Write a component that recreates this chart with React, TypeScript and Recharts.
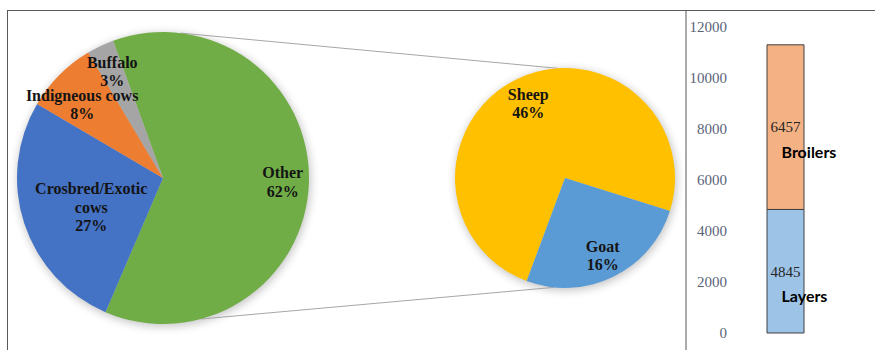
import { PieChart, Pie, Cell, BarChart, Bar, XAxis, YAxis, LabelList } from "recharts";

const mainCategories = ["Other", "Crosbred/Exotic cows", "Indigneous cows", "Buffalo"];
const mainShares = [62, 27, 8, 3];
const otherCategories = ["Sheep", "Goat"];
const otherShares = [46, 16];
const poultryTypes = ["Layers", "Broilers"];
const poultryCounts = [4845, 6457];
const yTicks = [0, 2000, 4000, 6000, 8000, 10000, 12000];

const mainColors = ["#70AD47", "#4472C4", "#ED7D31", "#A5A5A5"];
const otherColors = ["#FFC000", "#5B9BD5"];
const poultryColors = ["#9DC3E6", "#F4B183"];

// label placement: fraction of the radius, and a nudge in degrees off the slice middle
const mainLabelR = [0.82, 0.53, 0.75, 0.81];
const mainLabelNudge = [0, 3.8, 2.4, 0];
const otherLabelR = [0.76, 0.78];
const otherLabelNudge = [0, 0];
const labelLines: Record<string, string[]> = {
  "Crosbred/Exotic cows": ["Crosbred/Exotic", "cows"],
};

const LEFT = { cx: 163, cy: 178, r: 146 };
const RIGHT = { cx: 565, cy: 178, r: 110 };
const RAD = Math.PI / 180;

const mainData = mainCategories.map((name, i) => ({ name, value: mainShares[i] }));
const otherData = otherCategories.map((name, i) => ({ name, value: otherShares[i] }));
const barData = [
  poultryTypes.reduce((row: any, t, i) => ({ ...row, [t]: poultryCounts[i] }), { name: "Poultry" }),
];

const pt = (c: any, deg: number) => ({
  x: c.cx + c.r * Math.cos(-deg * RAD),
  y: c.cy + c.r * Math.sin(-deg * RAD),
});

const pieLabel = (factors: number[], nudge: number[]) => (props: any) => {
  const { cx, cy, midAngle, outerRadius, name, value, index } = props;
  const r = outerRadius * factors[index];
  const a = midAngle + nudge[index];
  const x = cx + r * Math.cos(-a * RAD);
  const y = cy + r * Math.sin(-a * RAD);
  const lines = [...(labelLines[name] || [name]), `${value}%`];
  const lh = 18.5;
  const y0 = y - ((lines.length - 1) * lh) / 2;
  return (
    <text
      x={x}
      y={y0}
      textAnchor="middle"
      dominantBaseline="central"
      fontFamily="'Liberation Serif', serif"
      fontWeight="bold"
      fontSize={16}
      fill="#141414"
    >
      {lines.map((l, i) => (
        <tspan key={i} x={x} y={y0 + i * lh}>
          {l}
        </tspan>
      ))}
    </text>
  );
};

const nameLabel = (name: string) => (props: any) => {
  const { x, y, width, height } = props;
  return (
    <text
      x={x + width / 2 - 4}
      y={y + height / 2 + 24}
      textAnchor="start"
      dominantBaseline="central"
      fontFamily="Lato, sans-serif"
      fontWeight="bold"
      fontSize={16}
      fill="#000"
    >
      {name}
    </text>
  );
};

export default function App() {
  const lt = pt(LEFT, 83);
  const lb = pt(LEFT, -75);
  const rt = pt(RIGHT, 94);
  const rb = pt(RIGHT, -96);
  return (
    <div style={{ position: "absolute", left: 0, top: 0, width: 875, height: 350, background: "#fff" }}>
      <svg width={875} height={350} style={{ position: "absolute", left: 0, top: 0 }}>
        <defs>
          <filter id="soft" x="-20%" y="-20%" width="140%" height="140%">
            <feGaussianBlur stdDeviation="4" />
          </filter>
        </defs>
        <circle cx={LEFT.cx + 1} cy={LEFT.cy + 2} r={LEFT.r + 1} fill="#000" opacity={0.22} filter="url(#soft)" />
        <circle cx={RIGHT.cx + 1} cy={RIGHT.cy + 2} r={RIGHT.r + 1} fill="#000" opacity={0.22} filter="url(#soft)" />
        <line x1={lt.x} y1={lt.y} x2={rt.x} y2={rt.y} stroke="#A6A6A6" strokeWidth={1} />
        <line x1={lb.x} y1={lb.y} x2={rb.x} y2={rb.y} stroke="#A6A6A6" strokeWidth={1} />
        <line x1={7} y1={10.5} x2={875} y2={10.5} stroke="#595959" strokeWidth={1} />
        <line x1={7.5} y1={10} x2={7.5} y2={350} stroke="#595959" strokeWidth={1} />
        <line x1={686} y1={10} x2={686} y2={350} stroke="#595959" strokeWidth={1} />
      </svg>
      <div style={{ position: "absolute", left: 0, top: 0 }}>
        <PieChart width={686} height={350} margin={{ top: 0, right: 0, bottom: 0, left: 0 }}>
          <Pie
            data={mainData}
            dataKey="value"
            nameKey="name"
            cx={LEFT.cx}
            cy={LEFT.cy}
            outerRadius={LEFT.r}
            startAngle={110}
            endAngle={-250}
            stroke="none"
            labelLine={false}
            label={pieLabel(mainLabelR, mainLabelNudge)}
            isAnimationActive={false}
          >
            {mainData.map((d, i) => (
              <Cell key={d.name} fill={mainColors[i]} />
            ))}
          </Pie>
          <Pie
            data={otherData}
            dataKey="value"
            nameKey="name"
            cx={RIGHT.cx}
            cy={RIGHT.cy}
            outerRadius={RIGHT.r}
            startAngle={249.6}
            endAngle={-110.4}
            stroke="none"
            labelLine={false}
            label={pieLabel(otherLabelR, otherLabelNudge)}
            isAnimationActive={false}
          >
            {otherData.map((d, i) => (
              <Cell key={d.name} fill={otherColors[i]} />
            ))}
          </Pie>
        </PieChart>
      </div>
      <div style={{ position: "absolute", left: 686, top: 0 }}>
        <BarChart width={189} height={350} data={barData} margin={{ top: 27, right: 31, bottom: 17, left: 0 }}>
          <XAxis dataKey="name" hide />
          <YAxis
            domain={[0, 12000]}
            ticks={yTicks}
            width={41}
            axisLine={false}
            tickLine={false}
            tickSize={0}
            tickMargin={0}
            interval={0}
            tick={{ fill: "#596378", fontSize: 15, fontFamily: "'Liberation Serif', serif" }}
          />
          {poultryTypes.map((t, i) => (
            <Bar
              key={t}
              dataKey={t}
              stackId="p"
              barSize={37}
              fill={poultryColors[i]}
              stroke="#404040"
              strokeWidth={1}
              isAnimationActive={false}
            >
              <LabelList
                dataKey={t}
                position="center"
                fill="#262626"
                fontSize={15}
                fontFamily="'Liberation Serif', serif"
              />
              <LabelList dataKey={t} content={nameLabel(t)} />
            </Bar>
          ))}
        </BarChart>
      </div>
    </div>
  );
}
